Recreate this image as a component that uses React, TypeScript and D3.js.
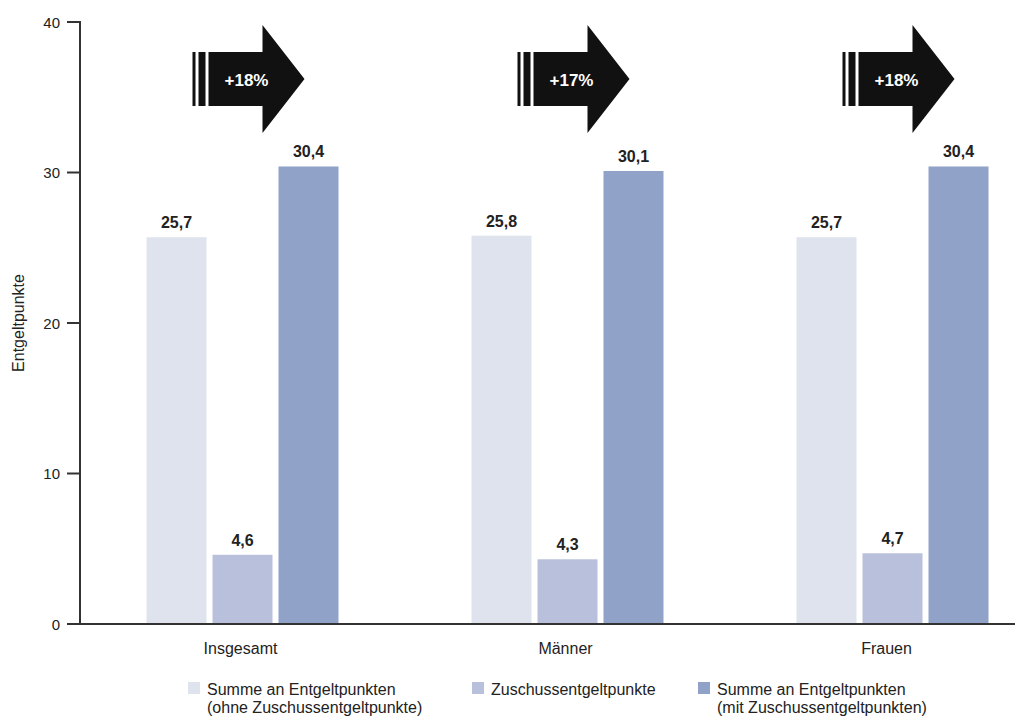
import React from "react";
import * as d3 from "d3";

const categories = ["Insgesamt", "Männer", "Frauen"];
const seriesNames = [
  ["Summe an Entgeltpunkten", "(ohne Zuschussentgeltpunkte)"],
  ["Zuschussentgeltpunkte"],
  ["Summe an Entgeltpunkten", "(mit Zuschussentgeltpunkten)"],
];
const ohneValues = [25.7, 25.8, 25.7];
const zuschussValues = [4.6, 4.3, 4.7];
const mitValues = [30.4, 30.1, 30.4];
const increaseLabels = ["+18%", "+17%", "+18%"];
const yTicks = [0, 10, 20, 30, 40];
const colors = ["#dfe3ee", "#b9c0db", "#91a2c9"];

const FONT = "'Liberation Sans', Arial, sans-serif";

export default function App() {
  const W = 1015, H = 719;
  const x0 = 80, y0 = 624;
  const y = d3.scaleLinear().domain([0, 40]).range([y0, 22]);
  const x = d3.scaleBand().domain(categories).range([80, 1055]).paddingInner(0).paddingOuter(0);
  const series = [ohneValues, zuschussValues, mitValues];
  const barW = 60, gap = 6;
  const fmt = (v: number) => v.toFixed(1).replace(".", ",");
  const legendX = [188, 472, 698];

  return (
    <svg width={W} height={H} style={{ position: "absolute", left: 0, top: 0 }} fontFamily={FONT}>
      {categories.map((c, ci) => {
        const cx = (x(c) as number) + x.bandwidth() / 2;
        return (
          <g key={c}>
            {series.map((s, si) => {
              const bx = cx - barW * 1.5 - gap + si * (barW + gap);
              return (
                <g key={si}>
                  <rect x={bx} y={y(s[ci])} width={barW} height={y0 - y(s[ci])} fill={colors[si]} />
                  <text x={bx + barW / 2} y={y(s[ci]) - 9} textAnchor="middle" fontSize={16} fontWeight="bold" fill="#222">
                    {fmt(s[ci])}
                  </text>
                </g>
              );
            })}
            <text x={cx - (ci === 2 ? 6 : 2)} y={654} textAnchor="middle" fontSize={16} fill="#222">{c}</text>
            <rect x={cx - 50} y={52} width={3} height={54} fill="#111" />
            <rect x={cx - 44} y={52} width={7} height={54} fill="#111" />
            <path
              d={`M${cx - 34},52 L${cx + 20},52 L${cx + 20},25 L${cx + 62},79 L${cx + 20},133 L${cx + 20},106 L${cx - 34},106 Z`}
              fill="#111"
            />
            <text x={cx + 4} y={86} textAnchor="middle" fontSize={17} fontWeight="bold" fill="#fff">
              {increaseLabels[ci]}
            </text>
          </g>
        );
      })}
      <line x1={x0} y1={21} x2={x0} y2={y0} stroke="#333" strokeWidth={2} />
      <line x1={x0 - 1} y1={y0} x2={W} y2={y0} stroke="#333" strokeWidth={2} />
      {yTicks.map((t) => (
        <g key={t}>
          <line x1={67} x2={x0} y1={y(t)} y2={y(t)} stroke="#333" strokeWidth={2} />
          <text x={60} y={y(t) + 5.5} textAnchor="end" fontSize={15} fill="#222">{t}</text>
        </g>
      ))}
      <text transform={`translate(24,${(y0 + 22) / 2}) rotate(-90)`} textAnchor="middle" fontSize={16} fill="#222">
        Entgeltpunkte
      </text>
      {seriesNames.map((lines, i) => (
        <g key={i}>
          <rect x={legendX[i]} y={682} width={12} height={12} fill={colors[i]} />
          {lines.map((l, li) => (
            <text key={li} x={legendX[i] + 19} y={695 + li * 18} fontSize={16} fill="#222">{l}</text>
          ))}
        </g>
      ))}
    </svg>
  );
}
